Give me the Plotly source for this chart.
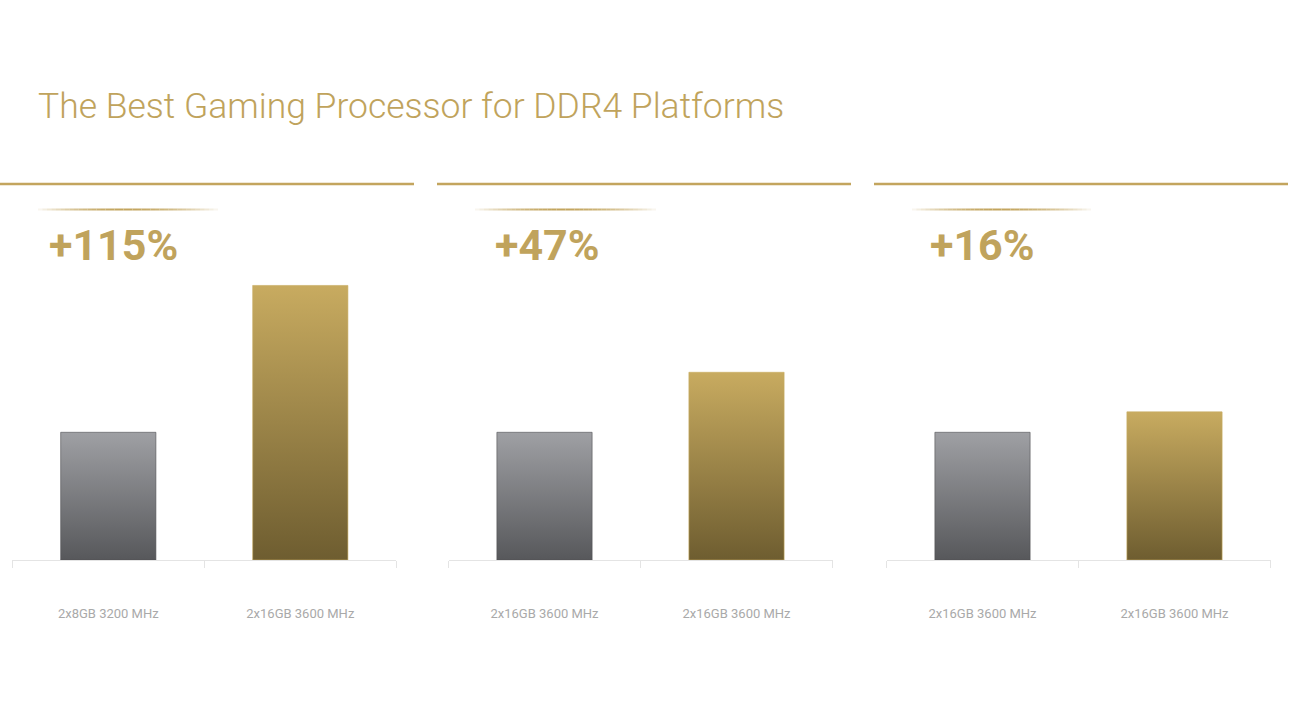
import plotly.graph_objects as go

# ---------------- data ----------------
gain_labels = ["+115%", "+47%", "+16%"]
baseline_labels = ["2x8GB 3200 MHz", "2x16GB 3600 MHz", "2x16GB 3600 MHz"]
upgraded_labels = ["2x16GB 3600 MHz", "2x16GB 3600 MHz", "2x16GB 3600 MHz"]
baseline_values = [100, 100, 100]
upgraded_values = [215, 147, 116]
title_text = "The Best Gaming Processor for DDR4 Platforms"

# ---------------- style ----------------
W, H = 1300, 718
GOLD = "#c3a55e"
GOLD_TXT = "#c0a35c"
GRAY_GRAD = [[0, "#57585b"], [1, "#9fa0a4"]]
GOLD_GRAD = [[0, "#6e5d30"], [1, "#c8ab60"]]
BAR_W = 0.496
Y_MAX = 230
Y_DOMAIN = [1 - 560 / H, 1 - (560 - Y_MAX * 1.277) / H]
X_DOMAINS = [[12.3 / W, 396.3 / W], [448.5 / W, 832.5 / W], [886.5 / W, 1270.5 / W]]
TOP_LINES = [(0, 414), (437, 851), (874, 1288)]
SHORT_LINES = [(38, 218), (475, 656), (912, 1091)]
GAIN_X = [47, 493, 928]
FONT = "Roboto"

fig = go.Figure()

def bar_trace(center, value, grad, ax_i, line_color):
    x0, x1 = center - BAR_W / 2, center + BAR_W / 2
    suffix = "" if ax_i == 1 else str(ax_i)
    return go.Scatter(
        x=[x0, x1, x1, x0, x0], y=[0, 0, value, value, 0],
        xaxis="x" + suffix, yaxis="y" + suffix,
        mode="lines", fill="toself",
        fillgradient=dict(type="vertical", colorscale=grad),
        line=dict(width=1, color=line_color),
        hoverinfo="skip", showlegend=False,
    )

layout_axes = {}
for i in range(3):
    ax_i = i + 1
    fig.add_trace(bar_trace(0, baseline_values[i], GRAY_GRAD, ax_i, "rgba(80,80,84,0.6)"))
    fig.add_trace(bar_trace(1, upgraded_values[i], GOLD_GRAD, ax_i, "rgba(200,171,96,0.6)"))
    suffix = "" if ax_i == 1 else str(ax_i)
    layout_axes["xaxis" + suffix] = dict(
        domain=X_DOMAINS[i], range=[-0.5, 1.5], anchor="y" + suffix,
        tickmode="array", tickvals=[0, 1],
        ticktext=[baseline_labels[i], upgraded_labels[i]],
        ticks="", showgrid=False, zeroline=False,
        showline=True, linecolor="#e4e4e4", linewidth=1,
        tickfont=dict(family=FONT, size=13, color="#a9a9a9"),
        ticklabelstandoff=41,
        minor=dict(tickmode="linear", tick0=-0.5, dtick=1, ticks="outside",
                   ticklen=7, tickwidth=1, tickcolor="#e4e4e4", showgrid=False),
        fixedrange=True,
    )
    layout_axes["yaxis" + suffix] = dict(
        domain=Y_DOMAIN, range=[0, Y_MAX], anchor="x" + suffix,
        visible=False, fixedrange=True,
    )

shapes = []
for (a, b) in TOP_LINES:
    shapes.append(dict(type="line", xref="paper", yref="paper",
                       x0=a / W, x1=b / W, y0=1 - 184 / H, y1=1 - 184 / H,
                       line=dict(color=GOLD, width=2.5)))
# fading short lines made of segments
NSEG = 40
for (a, b) in SHORT_LINES:
    for k in range(NSEG):
        t0 = k / NSEG
        t1 = (k + 1) / NSEG
        tm = (t0 + t1) / 2
        peak = 0.48
        d = abs(tm - peak) / (peak if tm < peak else 1 - peak)
        op = max(0.0, 1 - d ** 1.8) * 0.95 + 0.05
        shapes.append(dict(type="line", xref="paper", yref="paper",
                           x0=(a + (b - a) * t0) / W, x1=(a + (b - a) * t1) / W,
                           y0=1 - 209.5 / H, y1=1 - 209.5 / H,
                           line=dict(color=GOLD, width=2), opacity=op))

annotations = [dict(text=title_text, xref="paper", yref="paper",
                    x=36 / W, y=1 - 106 / H, xanchor="left", yanchor="middle",
                    showarrow=False,
                    font=dict(family=FONT, size=35.5, color=GOLD_TXT, weight=300))]
for i in range(3):
    annotations.append(dict(text=gain_labels[i], xref="paper", yref="paper",
                            x=GAIN_X[i] / W, y=1 - 245 / H,
                            xanchor="left", yanchor="middle", showarrow=False,
                            font=dict(family=FONT, size=43, color=GOLD_TXT, weight=700)))

fig.update_layout(
    width=W, height=H, margin=dict(l=0, r=0, t=0, b=0),
    paper_bgcolor="white", plot_bgcolor="white",
    shapes=shapes, annotations=annotations, showlegend=False,
    **layout_axes,
)

fig.write_html("out.html", config={"displayModeBar": False})
